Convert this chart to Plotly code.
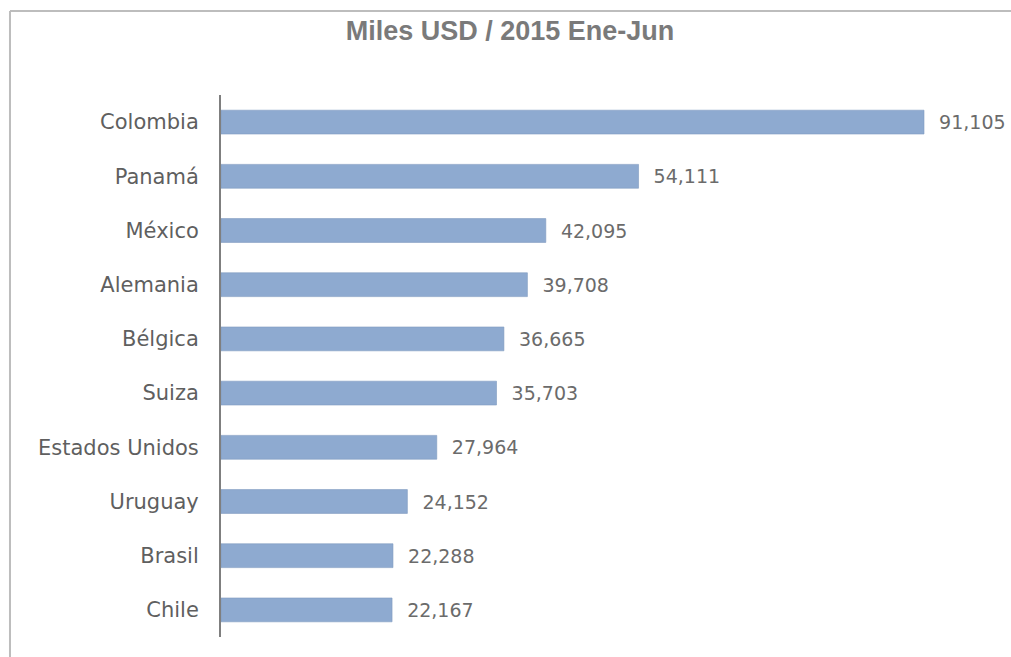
import plotly.graph_objects as go

# Exportaciones por país de destino, miles de USD, enero-junio 2015
paises = ["Colombia", "Panamá", "México", "Alemania", "Bélgica",
          "Suiza", "Estados Unidos", "Uruguay", "Brasil", "Chile"]
valores = [91105, 54111, 42095, 39708, 36665,
           35703, 27964, 24152, 22288, 22167]

titulo = "Miles USD / 2015 Ene-Jun"

fig = go.Figure(
    go.Bar(
        x=valores,
        y=paises,
        orientation="h",
        marker=dict(color="#8eaad0", line=dict(color="#7f9bc0", width=0.6)),
        texttemplate="  %{x:,}",
        textposition="outside",
        textfont=dict(family="DejaVu Sans", size=19, color="#6b6b6b"),
        cliponaxis=False,
        hoverinfo="skip",
    )
)

fig.update_layout(
    width=1011,
    height=657,
    margin=dict(l=221, r=0, t=95, b=20),
    paper_bgcolor="#ffffff",
    plot_bgcolor="#ffffff",
    bargap=0.56,
    showlegend=False,
    title=dict(
        text=titulo,
        x=0.5045,
        xref="container",
        xanchor="center",
        y=0.953,
        yanchor="middle",
        font=dict(family="Liberation Sans", size=27, color="#7a7a7a", weight="bold"),
    ),
    xaxis=dict(
        range=[0, 102380],
        showgrid=False,
        zeroline=False,
        showline=False,
        showticklabels=False,
        ticks="",
    ),
    yaxis=dict(
        categoryorder="array",
        categoryarray=paises,
        autorange="reversed",
        showgrid=False,
        zeroline=False,
        showline=True,
        linecolor="#7f7f7f",
        linewidth=2,
        ticks="",
        ticklabelstandoff=16,
        tickfont=dict(family="DejaVu Sans", size=21, color="#5f5f5f"),
    ),
    shapes=[
        # marco fino superior e izquierdo del gráfico
        dict(type="line", xref="paper", yref="paper",
             x0=-0.2671, x1=1.02, y0=1.1550, y1=1.1550,
             line=dict(color="#bdbdbd", width=2)),
        dict(type="line", xref="paper", yref="paper",
             x0=-0.2671, x1=-0.2671, y0=1.1550, y1=-0.05,
             line=dict(color="#bdbdbd", width=2)),
    ],
)

fig.write_html("out.html")
